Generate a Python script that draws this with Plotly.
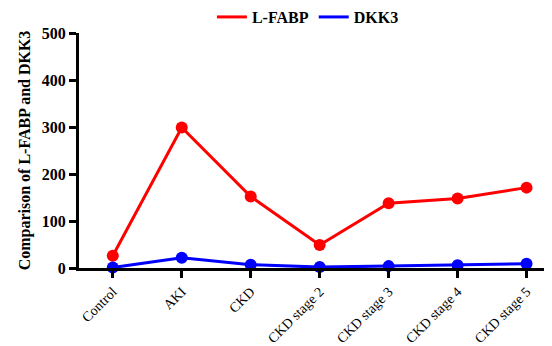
import plotly.graph_objects as go

categories = ["Control", "AKI", "CKD", "CKD stage 2", "CKD stage 3", "CKD stage 4", "CKD stage 5"]
lfabp = [26, 299, 152, 49, 138, 148, 171]
dkk3 = [1, 22, 7, 2, 4, 6, 9]
y_ticks = [0, 100, 200, 300, 400, 500]

RED = "#ff0000"
BLUE = "#0000ff"
FONT = "Times New Roman, Liberation Serif, serif"

x = list(range(len(categories)))
fig = go.Figure()
fig.add_trace(go.Scatter(x=x, y=lfabp, mode="lines+markers", showlegend=False,
                         line=dict(color=RED, width=3), marker=dict(size=12, color=RED), cliponaxis=False))
fig.add_trace(go.Scatter(x=x, y=dkk3, mode="lines+markers", showlegend=False,
                         line=dict(color=BLUE, width=3), marker=dict(size=12, color=BLUE), cliponaxis=False))
fig.add_trace(go.Scatter(x=[None], y=[None], mode="lines", name="<b>L-FABP</b>",
                         line=dict(color=RED, width=3)))
fig.add_trace(go.Scatter(x=[None], y=[None], mode="lines", name="<b>DKK3</b>",
                         line=dict(color=BLUE, width=3)))

fig.update_layout(
    width=544, height=338,
    margin=dict(l=71, r=2, t=25, b=78, autoexpand=False),
    paper_bgcolor="white", plot_bgcolor="white",
    font=dict(family=FONT, color="black"),
    legend=dict(orientation="h", x=0.486, y=1.068, xanchor="center", yanchor="middle",
                font=dict(size=16, family=FONT), itemwidth=30, tracegroupgap=0),
    xaxis=dict(
        tickmode="array", tickvals=x, ticktext=categories, tickangle=-45,
        range=[-0.49, 6.34], showgrid=False, zeroline=False, automargin=False,
        showline=True, linecolor="black", linewidth=3,
        ticks="outside", ticklen=7, tickwidth=3, tickcolor="black",
        tickfont=dict(size=14, family=FONT),
    ),
    yaxis=dict(
        range=[0, 500], tickvals=y_ticks, ticktext=[f"<b>{v}</b>" for v in y_ticks],
        showgrid=False, zeroline=False, automargin=False,
        showline=True, linecolor="black", linewidth=3,
        ticks="outside", ticklen=7, tickwidth=3, tickcolor="black",
        tickfont=dict(size=16, family=FONT),
        title=dict(text="<b>Comparison of L-FABP and DKK3</b>", font=dict(size=16, family=FONT), standoff=8),
    ),
)

fig.write_html("out.html")
